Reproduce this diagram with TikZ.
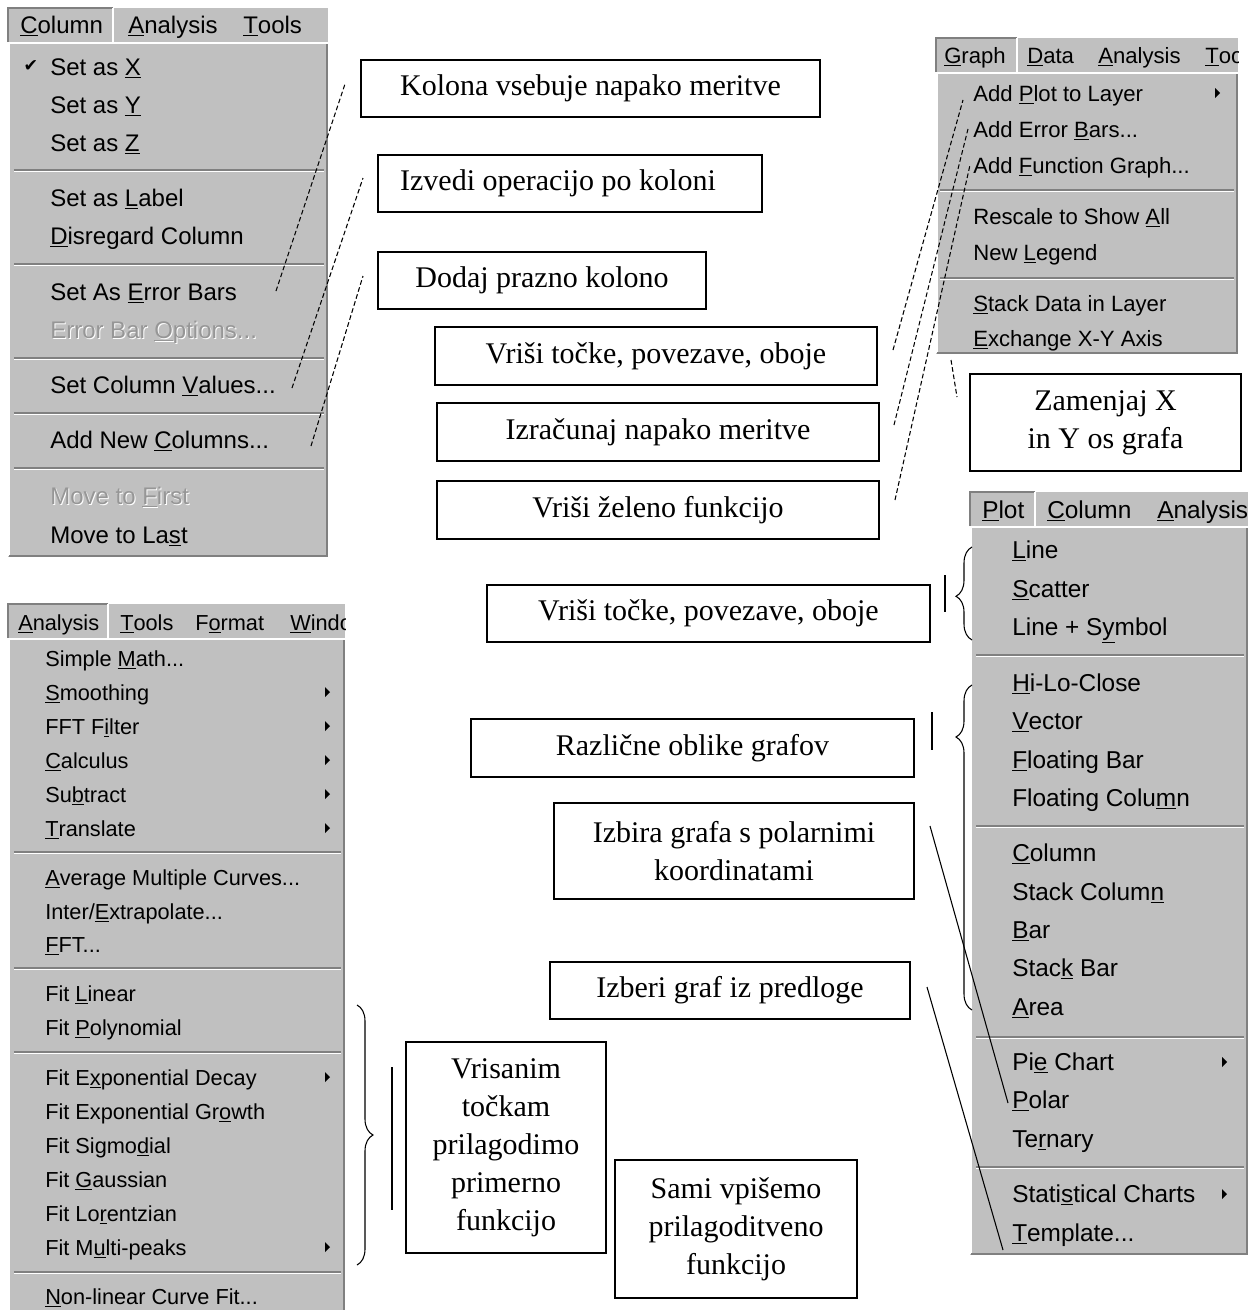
\documentclass[tikz,border=0pt]{standalone}
\usepackage{fontspec}
\setmainfont{Liberation Serif}
\newfontfamily\menufont{Liberation Sans}
\newfontfamily\symfont{DejaVu Sans}
\usetikzlibrary{decorations.pathreplacing,fit}
\definecolor{menugray}{RGB}{192,192,192}
\definecolor{mdark}{RGB}{128,128,128}
\definecolor{mdis}{RGB}{150,150,150}
\newcommand\uk[1]{\underline{#1}}
\newcommand\menusep[3]{\draw[sepl] (#1,#3) -- (#2,#3); \draw[sepw] (#1,#3+1.6) -- (#2,#3+1.6);}
\newcommand\subarrow[2]{\fill (#1,#2-5) -- (#1+5,#2) -- (#1,#2+5) -- cycle;}
\tikzset{
 m1/.style={anchor=base west, inner sep=0pt, font=\menufont\fontsize{18}{20}\selectfont},
 m2/.style={m1, font=\menufont\fontsize{16.6}{20}\selectfont},
 m3/.style={m1, font=\menufont\fontsize{16.3}{20}\selectfont},
 m4/.style={m1, font=\menufont\fontsize{18.3}{20}\selectfont},
 sepl/.style={draw=mdark, line width=1pt},
 sepw/.style={draw=white, line width=1pt},
 lblbox/.style={draw, line width=1.1pt, fill=white, inner sep=0pt},
 lbltxt/.style={inner sep=0pt, align=center, font=\fontsize{22.5}{28.5}\selectfont},
 dashln/.style={line width=0.8pt, dash pattern=on 3.5pt off 2pt},
 thinln/.style={line width=0.8pt},
 brc/.style={line width=0.8pt, decorate, decoration={brace, amplitude=12pt, aspect=#1}},
}
\begin{document}
\begin{tikzpicture}[x=0.75pt,y=-0.75pt]
\useasboundingbox (0,0) rectangle (1250,1310);
\fill[white] (0,0) rectangle (1250,1310);

% ================= Panel 1: Column menu =================
\fill[menugray] (8,8) rectangle (328,557);
\draw[white, line width=1pt] (8,43) -- (328,43);
\draw[mdark, line width=0.8pt] (8,42) -- (8,8) -- (113,8);
\draw[white, line width=0.8pt] (113,8) -- (113,42);
\draw[white, line width=1pt] (9,44) -- (9,556);
\draw[mdark, line width=1pt] (327,44) -- (327,556) -- (9,556);
\node[m1] (p1bar1) at (20,33) {\uk{C}olumn};
\node[m1] (p1bar2) at (128,33) {\uk{A}nalysis};
\node[m1] (p1bar3) at (243,33) {\uk{T}ools};
\node[inner sep=0pt, font=\symfont\fontsize{13}{13}\selectfont] (chk) at (31,66) {✔};
\foreach \t/\y [count=\i] in {{Set as \uk{X}}/67, {Set as \uk{Y}}/105, {Set as \uk{Z}}/143, {Set as \uk{L}abel}/198, {\uk{D}isregard Column}/236, {Set As \uk{E}rror Bars}/292, {Set Column \uk{V}alues...}/385, {Add New \uk{C}olumns...}/440, {Move to La\uk{s}t}/535}
  \node[m1] (c\i) at (50,\y+8) {\t};
\node[m1, text=white] (cdis1w) at (51,339) {Error Bar \uk{O}ptions...};
\node[m1, text=mdis] (cdis1) at (50,338) {Error Bar \uk{O}ptions...};
\node[m1, text=white] (cdis2w) at (51,505) {Move to \uk{F}irst};
\node[m1, text=mdis] (cdis2) at (50,504) {Move to \uk{F}irst};
\menusep{14}{324}{170}
\menusep{14}{324}{264}
\menusep{14}{324}{358}
\menusep{14}{324}{413}
\menusep{14}{324}{468}

% ================= Panel 2: Graph menu =================
\fill[menugray] (936,38) rectangle (1238,354);
\draw[white, line width=1pt] (936,73) -- (1238,73);
\draw[mdark, line width=0.8pt] (936,72) -- (936,38) -- (1017,38);
\draw[white, line width=0.8pt] (1017,38) -- (1017,72);
\draw[white, line width=1pt] (937,74) -- (937,353);
\draw[mdark, line width=1pt] (1237,74) -- (1237,353) -- (937,353);
\begin{scope}
\clip (936,38) rectangle (1238,72);
\node[m2] (p2bar1) at (944,63) {\uk{G}raph};
\node[m2] (p2bar2) at (1027,63) {\uk{D}ata};
\node[m2] (p2bar3) at (1098,63) {\uk{A}nalysis};
\node[m2] (p2bar4) at (1205,63) {\uk{T}ools};
\end{scope}
\foreach \t/\y [count=\i] in {{Add \uk{P}lot to Layer}/93, {Add Error \uk{B}ars...}/129, {Add \uk{F}unction Graph...}/165, {Rescale to Show \uk{A}ll}/216, {New \uk{L}egend}/252, {\uk{S}tack Data in Layer}/303, {\uk{E}xchange X-Y Axis}/338}
  \node[m2] (g\i) at (973,\y+8) {\t};
\subarrow{1215}{93}
\menusep{940}{1234}{190}
\menusep{940}{1234}{278}

% ================= Panel 3: Analysis menu =================
\fill[menugray] (8,604) rectangle (345,1310);
\draw[white, line width=1pt] (8,639) -- (345,639);
\draw[mdark, line width=0.8pt] (8,638) -- (8,604) -- (108,604);
\draw[white, line width=0.8pt] (108,604) -- (108,638);
\draw[white, line width=1pt] (9,640) -- (9,1310);
\draw[mdark, line width=1pt] (344,640) -- (344,1310);
\begin{scope}
\clip (8,604) rectangle (345,638);
\node[m3] (p3bar1) at (18,630) {\uk{A}nalysis};
\node[m3] (p3bar2) at (120,630) {\uk{T}ools};
\node[m3] (p3bar3) at (195,630) {F\uk{o}rmat};
\node[m3] (p3bar4) at (290,630) {\uk{W}indow};
\end{scope}
\foreach \t/\y [count=\i] in {{Simple \uk{M}ath...}/658, {\uk{S}moothing}/692, {FFT F\uk{i}lter}/726, {\uk{C}alculus}/760, {Su\uk{b}tract}/794, {\uk{T}ranslate}/828, {\uk{A}verage Multiple Curves...}/877, {Inter/\uk{E}xtrapolate...}/911, {\uk{F}FT...}/944, {Fit \uk{L}inear}/993, {Fit \uk{P}olynomial}/1027, {Fit E\uk{x}ponential Decay}/1077, {Fit Exponential Gr\uk{o}wth}/1111, {Fit Sigmo\uk{d}ial}/1145, {Fit \uk{G}aussian}/1179, {Fit Lo\uk{r}entzian}/1213, {Fit M\uk{u}lti-peaks}/1247, {\uk{N}on-linear Curve Fit...}/1296}
  \node[m3] (a\i) at (45,\y+8) {\t};
\foreach \y in {692,726,760,794,828,1077,1247} { \subarrow{325}{\y} }
\menusep{14}{341}{852}
\menusep{14}{341}{968}
\menusep{14}{341}{1052}
\menusep{14}{341}{1272}

% ================= Panel 4: Plot menu =================
\fill[menugray] (970,492) rectangle (1248,1255);
\draw[white, line width=1pt] (970,527) -- (1248,527);
\draw[mdark, line width=0.8pt] (970,526) -- (970,492) -- (1035,492);
\draw[white, line width=0.8pt] (1035,492) -- (1035,526);
\draw[white, line width=1pt] (971,528) -- (971,1254);
\draw[mdark, line width=1pt] (1247,528) -- (1247,1254) -- (971,1254);
\begin{scope}
\clip (970,492) rectangle (1248,526);
\node[m4] (p4bar1) at (982,518) {\uk{P}lot};
\node[m4] (p4bar2) at (1047,518) {\uk{C}olumn};
\node[m4] (p4bar3) at (1157,518) {\uk{A}nalysis};
\end{scope}
\foreach \t/\y [count=\i] in {{\uk{L}ine}/550, {\uk{S}catter}/589, {Line + S\uk{y}mbol}/627, {\uk{H}i-Lo-Close}/683, {\uk{V}ector}/721, {\uk{F}loating Bar}/760, {Floating Colu\uk{m}n}/798, {\uk{C}olumn}/853, {Stack Colum\uk{n}}/892, {\uk{B}ar}/930, {Stac\uk{k} Bar}/968, {\uk{A}rea}/1007, {Pi\uk{e} Chart}/1062, {\uk{P}olar}/1100, {Te\uk{r}nary}/1139, {Stati\uk{s}tical Charts}/1194, {\uk{T}emplate...}/1233}
  \node[m4] (p\i) at (1012,\y+8) {\t};
\subarrow{1222}{1062}
\subarrow{1222}{1194}
\menusep{976}{1244}{655}
\menusep{976}{1244}{826}
\menusep{976}{1244}{1037}
\menusep{976}{1244}{1167}

% ================= Label boxes =================
\node[lblbox, fit={(361,60)(820,117)}] (b1) {};
\node[lbltxt] (t1) at (b1.center) {Kolona vsebuje napako meritve};
\node[lblbox, fit={(378,155)(762,212)}] (b2) {};
\node[lbltxt] (t2) at ([xshift=-9pt]b2.center) {Izvedi operacijo po koloni};
\node[lblbox, fit={(378,252)(706,309)}] (b3) {};
\node[lbltxt] (t3) at (b3.center) {Dodaj prazno kolono};
\node[lblbox, fit={(435,327)(877,385)}] (b4) {};
\node[lbltxt] (t4) at (b4.center) {Vriši točke, povezave, oboje};
\node[lblbox, fit={(437,403)(879,461)}] (b5) {};
\node[lbltxt] (t5) at (b5.center) {Izračunaj napako meritve};
\node[lblbox, fit={(437,481)(879,539)}] (b6) {};
\node[lbltxt] (t6) at (b6.center) {Vriši želeno funkcijo};
\node[lblbox, fit={(970,374)(1241,471)}] (b7) {};
\node[lbltxt] (t7) at (b7.center) {Zamenjaj X\\in Y os grafa};
\node[lblbox, fit={(487,585)(930,642)}] (b8) {};
\node[lbltxt] (t8) at (b8.center) {Vriši točke, povezave, oboje};
\node[lblbox, fit={(471,719)(914,777)}] (b9) {};
\node[lbltxt] (t9) at (b9.center) {Različne oblike grafov};
\node[lblbox, fit={(554,803)(914,899)}] (b10) {};
\node[lbltxt] (t10) at (b10.center) {Izbira grafa s polarnimi\\koordinatami};
\node[lblbox, fit={(550,962)(910,1019)}] (b11) {};
\node[lbltxt] (t11) at (b11.center) {Izberi graf iz predloge};
\node[lblbox, fit={(406,1042)(606,1253)}] (b12) {};
\node[lbltxt] (t12) at (b12.center) {Vrisanim\\točkam\\prilagodimo\\primerno\\funkcijo};
\node[lblbox, fit={(615,1160)(857,1298)}] (b13) {};
\node[lbltxt] (t13) at (b13.center) {Sami vpišemo\\prilagoditveno\\funkcijo};

% ================= Connectors =================
\coordinate (l1a) at (276,291); \coordinate (l1b) at (345,84);
\coordinate (l2a) at (292,388); \coordinate (l2b) at (363,178);
\coordinate (l3a) at (311,446); \coordinate (l3b) at (363,276);
\coordinate (l4a) at (893,350); \coordinate (l4b) at (963,100);
\coordinate (l5a) at (894,425); \coordinate (l5b) at (968,129);
\coordinate (l6a) at (895,500); \coordinate (l6b) at (970,165);
\coordinate (l7a) at (951,360); \coordinate (l7b) at (957,397);
\coordinate (pola) at (930,826); \coordinate (polb) at (1008,1103);
\coordinate (tema) at (927,987); \coordinate (temb) at (1003,1250);
\draw[dashln] (l1a) -- (l1b);
\draw[dashln] (l2a) -- (l2b);
\draw[dashln] (l3a) -- (l3b);
\draw[dashln] (l4a) -- (l4b);
\draw[dashln] (l5a) -- (l5b);
\draw[dashln] (l6a) -- (l6b);
\draw[dashln] (l7a) -- (l7b);
\draw[thinln] (pola) -- (polb);
\draw[thinln] (tema) -- (temb);

% vertical markers
\coordinate (v1a) at (945,575); \coordinate (v1b) at (945,612);
\coordinate (v2a) at (932,712); \coordinate (v2b) at (932,750);
\coordinate (v3a) at (392,1067); \coordinate (v3b) at (392,1210);
\draw[line width=1pt] (v1a) -- (v1b);
\draw[line width=1pt] (v2a) -- (v2b);
\draw[line width=1pt] (v3a) -- (v3b);

% braces
\coordinate (br1a) at (972,640); \coordinate (br1b) at (972,547);
\coordinate (br2a) at (972,1010); \coordinate (br2b) at (972,685);
\coordinate (br3a) at (357,1005); \coordinate (br3b) at (357,1265);
\draw[brc=0.47] (br1a) -- (br1b);
\draw[brc=0.84] (br2a) -- (br2b);
\draw[brc=0.5] (br3a) -- (br3b);
\end{tikzpicture}
\end{document}
